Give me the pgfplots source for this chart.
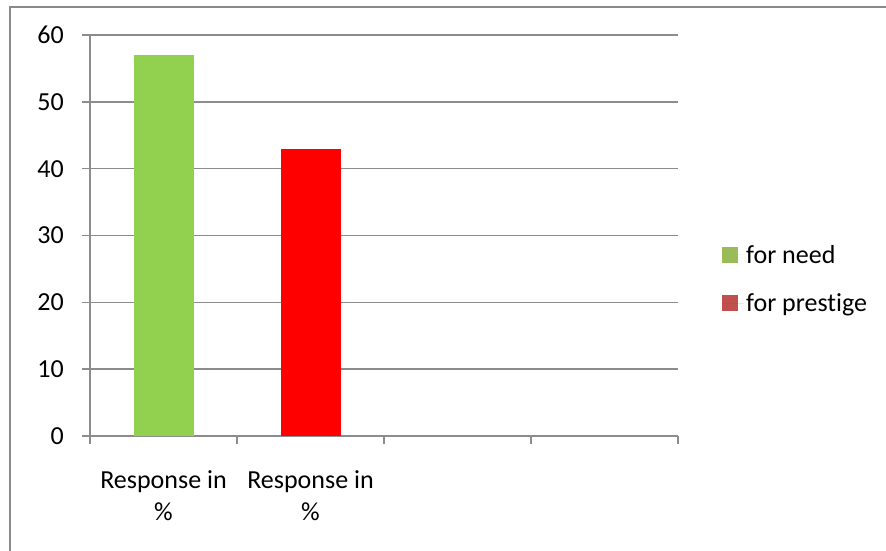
\documentclass[border=0pt]{standalone}
\usepackage{fontspec}
\setmainfont{Carlito}[Ligatures=NoCommon]
\usepackage{pgfplots}
\pgfplotsset{compat=1.18}

\definecolor{needgreen}{HTML}{92D050}
\definecolor{prestigered}{HTML}{FF0000}
\definecolor{keygreen}{HTML}{9BBB59}
\definecolor{keyred}{HTML}{C0504D}
\definecolor{axisgray}{HTML}{8C8C8C}
\definecolor{framegray}{HTML}{8A8A8A}

\begin{document}
\begin{tikzpicture}[x=1pt,y=1pt]
\useasboundingbox (0,0) rectangle (886,550);
% chart area frame (left and top edges)
\draw[framegray, line width=2pt] (10,-5) -- (10,543) -- (891,543);

\begin{axis}[
  at={(90pt,114pt)}, anchor=south west,
  scale only axis, width=588pt, height=401pt,
  xmin=-0.5, xmax=3.5, ymin=0, ymax=60,
  ytick={0,10,...,60},
  xtick={0,1},
  xticklabels={Response in\\\%, Response in\\\%},
  minor xtick={-0.5,0.5,1.5,2.5,3.5},
  every major x tick/.append style={draw=none},
  major tick length=8pt, minor tick length=8pt,
  tick align=outside,
  axis x line*=bottom, axis y line*=left,
  axis line style={-, draw=axisgray, line width=1.5pt},
  tick style={draw=axisgray, line width=1.5pt},
  ymajorgrids, grid style={draw=axisgray, line width=1.5pt},
  /pgf/number format/assume math mode=true,
  yticklabel style={font=\fontsize{26}{31}\selectfont, inner sep=0pt, xshift=-18pt},
  xticklabel style={font=\fontsize{26}{32}\selectfont, align=center, inner sep=0pt, yshift=-26pt},
  ybar, bar width=60pt,
  legend style={draw=none, fill=none, at={(axis description cs:1.0748,0.3915)}, anchor=west,
    inner sep=0pt, row sep=25pt, font=\fontsize{26}{31}\selectfont,
    legend cell align=left},
]
\addplot[draw=none, fill=needgreen, bar shift=0pt,
  legend image code/.code={\fill[keygreen] (0pt,-8pt) rectangle (16pt,8pt); \path (0pt,0pt) -- (22pt,0pt);}]
  coordinates {(0,57)};
\addlegendentry{for need}
\addplot[draw=none, fill=prestigered, bar shift=0pt,
  legend image code/.code={\fill[keyred] (0pt,-8pt) rectangle (16pt,8pt); \path (0pt,0pt) -- (22pt,0pt);}]
  coordinates {(1,43)};
\addlegendentry{for prestige}
\end{axis}
\end{tikzpicture}
\end{document}
